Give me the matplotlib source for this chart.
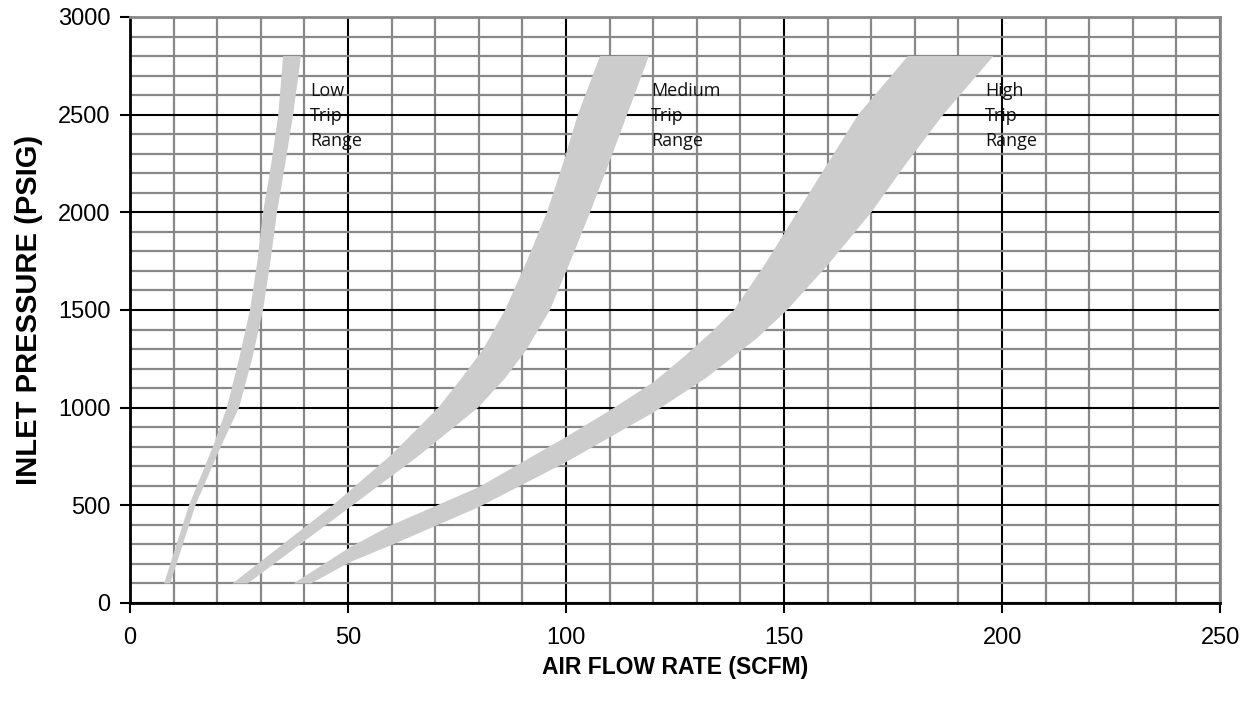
import matplotlib.pyplot as plt
from matplotlib.ticker import MultipleLocator

# band edges: (air flow, pressure)
low_left_x = [7.8, 13.5, 19, 22.2, 25, 27.5, 29.2, 30.5, 32.4, 34, 35.1]
low_left_y = [100, 500, 800, 1000, 1250, 1500, 1750, 2000, 2250, 2500, 2800]
low_right_x = [9.2, 15, 20.8, 25, 28, 30.5, 32.2, 33.7, 35.6, 37.4, 39.2]
low_right_y = [100, 500, 800, 1000, 1250, 1500, 1750, 2000, 2250, 2500, 2800]

med_left_x = [23.5, 35, 46.5, 60, 70.7, 76, 81, 86, 91, 95.6, 99.3, 102.7, 107.8]
med_left_y = [100, 300, 500, 760, 1000, 1150, 1300, 1500, 1750, 2000, 2250, 2500, 2800]
med_right_x = [27, 39, 51, 66, 79.8, 86, 91, 96.3, 101, 105.5, 109.8, 114, 119]
med_right_y = [100, 300, 500, 750, 1000, 1150, 1300, 1500, 1750, 2000, 2250, 2500, 2800]

high_left_x = [37.5, 50.5, 60, 80, 100, 110, 120, 127, 133, 138.5, 145.5, 153, 160, 167, 178.4]
high_left_y = [100, 286, 399, 593, 850, 985, 1130, 1260, 1380, 1500, 1730, 2000, 2250, 2500, 2800]
high_right_x = [41.5, 50.5, 60, 80, 100, 120, 132, 143.8, 150.7, 160, 170, 178, 186.5, 198]
high_right_y = [100, 210, 297, 491, 721, 975, 1150, 1356, 1500, 1730, 2000, 2250, 2500, 2800]

labels = ['Low\nTrip\nRange', 'Medium\nTrip\nRange', 'High\nTrip\nRange']
label_x = [41.3, 119.5, 196.1]


def band(ax, lx, ly, rx, ry):
    xs = lx + rx[::-1]
    ys = ly + ry[::-1]
    ax.fill(xs, ys, color='#cccccc', lw=0, zorder=1)


def draw():
    plt.rcParams['font.family'] = ['Liberation Sans', 'DejaVu Sans']
    fig = plt.figure(figsize=(12.59, 7.11), dpi=100)
    ax = fig.add_axes([0.1033, 0.1519, 0.8658, 0.8242])

    band(ax, low_left_x, low_left_y, low_right_x, low_right_y)
    band(ax, med_left_x, med_left_y, med_right_x, med_right_y)
    band(ax, high_left_x, high_left_y, high_right_x, high_right_y)

    for s, x in zip(labels, label_x):
        ax.text(x, 2665, s, family='Open Sans', fontsize=13, va='top',
                ha='left', linespacing=1.5, color='#111111', zorder=3)

    ax.set_xlim(0, 250)
    ax.set_ylim(0, 3000)
    ax.xaxis.set_major_locator(MultipleLocator(50))
    ax.xaxis.set_minor_locator(MultipleLocator(10))
    ax.yaxis.set_major_locator(MultipleLocator(500))
    ax.yaxis.set_minor_locator(MultipleLocator(100))
    ax.set_axisbelow(True)
    ax.grid(which='major', color='black', lw=1.5)
    ax.grid(which='minor', color='#888888', lw=1.6)

    ax.tick_params(which='major', direction='out', length=7, width=1.5,
                   labelsize=17, color='black')
    ax.tick_params(axis='x', pad=10)
    ax.tick_params(axis='y', pad=7)
    ax.tick_params(which='minor', length=0)
    ax.tick_params(top=False, right=False)

    for side in ['left', 'bottom']:
        ax.spines[side].set_color('black')
        ax.spines[side].set_linewidth(2)
    for side in ['top', 'right']:
        ax.spines[side].set_color('#888888')
        ax.spines[side].set_linewidth(2)

    ax.set_xlabel('AIR FLOW RATE (SCFM)', fontsize=16.5, fontweight='bold', labelpad=5)
    ax.set_ylabel('INLET PRESSURE (PSIG)', fontsize=21, fontweight='bold', labelpad=11)

    fig.savefig('out.png', dpi=100)


def main():
    draw()


if __name__ == '__main__':
    main()
